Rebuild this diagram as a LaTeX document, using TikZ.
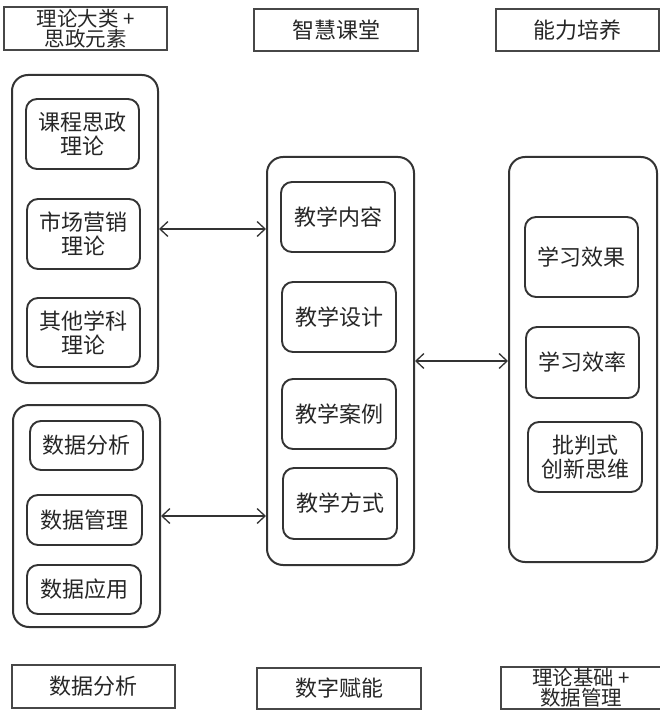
\documentclass[tikz,border=0pt]{standalone}
\usepackage{fontspec}
\newfontfamily\cjk{Noto Sans CJK SC}
\usetikzlibrary{arrows.meta}
\begin{document}
\begin{tikzpicture}[x=1pt,y=-1pt,
  hdr/.style={draw=black!72, line width=1.8pt, inner sep=0pt, align=center,
    text=black!85, font=\cjk\fontsize{22}{19}\selectfont},
  hdrtwo/.style={hdr, font=\cjk\fontsize{20.5}{18.5}\selectfont},
  cont/.style={draw=black!80, line width=2pt, rounded corners=16pt, inner sep=0pt},
  inbox/.style={draw=black!80, line width=1.9pt, rounded corners=11pt, inner sep=0pt,
    align=center, text=black!85, font=\cjk\fontsize{22}{24}\selectfont},
  link/.style={draw=black!80, line width=1.3pt, {Straight Barb[length=8pt,width=15pt]}-{Straight Barb[length=8pt,width=15pt]}}
]
\useasboundingbox (0,0) rectangle (660,714);
% headers
\node[hdrtwo, minimum width=163pt, minimum height=43pt] (h1) at (85.5,28.5) {理论大类 +\\思政元素};
\node[hdr, minimum width=164pt, minimum height=42pt] (h2) at (336,30) {智慧课堂};
\node[hdr, minimum width=163pt, minimum height=42pt] (h3) at (577.5,30) {能力培养};
\node[hdr, minimum width=163pt, minimum height=43pt] (f1) at (93.5,686.5) {数据分析};
\node[hdr, minimum width=164pt, minimum height=41pt] (f2) at (339,688.5) {数字赋能};
\node[hdrtwo, minimum width=160pt, minimum height=42pt] (f3) at (581,688) {理论基础 +\\数据管理};
% containers
\node[cont, minimum width=146pt, minimum height=308pt] (L1) at (85,229) {};
\node[cont, minimum width=147pt, minimum height=222pt] (L2) at (86.5,516) {};
\node[cont, minimum width=147pt, minimum height=408pt] (M) at (340.5,361) {};
\node[cont, minimum width=148pt, minimum height=405pt] (R) at (583,359.5) {};
% inner boxes left
\node[inbox, minimum width=113pt, minimum height=70pt] (a1) at (82.5,134) {课程思政\\理论};
\node[inbox, minimum width=113pt, minimum height=70pt] (a2) at (83.5,234) {市场营销\\理论};
\node[inbox, minimum width=113pt, minimum height=69pt] (a3) at (83.5,332.5) {其他学科\\理论};
\node[inbox, minimum width=113pt, minimum height=49pt] (b1) at (86.5,445.5) {数据分析};
\node[inbox, minimum width=115pt, minimum height=50pt] (b2) at (84.5,520) {数据管理};
\node[inbox, minimum width=114pt, minimum height=49pt] (b3) at (84,589.5) {数据应用};
% middle
\node[inbox, minimum width=114pt, minimum height=70pt] (m1) at (338,217) {教学内容};
\node[inbox, minimum width=114pt, minimum height=70pt] (m2) at (339,317) {教学设计};
\node[inbox, minimum width=114pt, minimum height=70pt] (m3) at (339,414) {教学案例};
\node[inbox, minimum width=114pt, minimum height=71pt] (m4) at (340,503.5) {教学方式};
% right
\node[inbox, minimum width=113pt, minimum height=80pt] (r1) at (581.5,257) {学习效果};
\node[inbox, minimum width=113pt, minimum height=71pt] (r2) at (582.5,362.5) {学习效率};
\node[inbox, minimum width=114pt, minimum height=70pt] (r3) at (585,457) {批判式\\创新思维};
% connectors
\draw[link] (L1.east) -- (L1.east -| M.west);
\draw[link] (L2.east) -- (L2.east -| M.west);
\draw[link] (M.east) -- (M.east -| R.west);
\end{tikzpicture}
\end{document}
